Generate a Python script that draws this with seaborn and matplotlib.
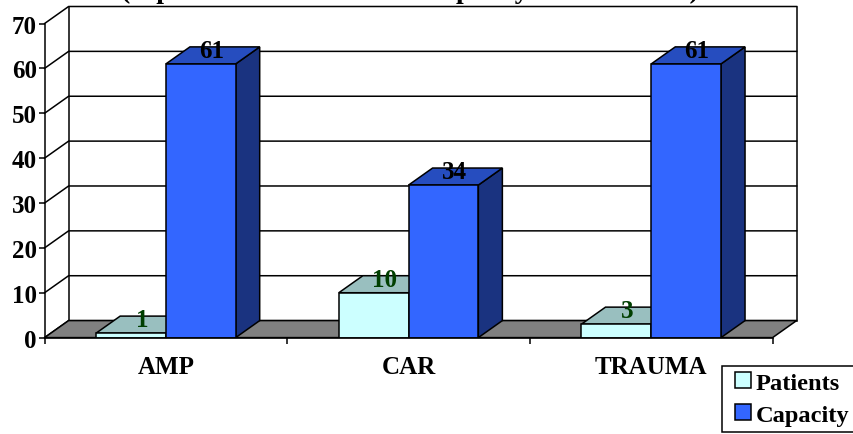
import matplotlib
matplotlib.use("Agg")
import matplotlib.pyplot as plt
import pandas as pd
import seaborn as sns
from matplotlib.legend_handler import HandlerPatch
from matplotlib.patches import Polygon, Rectangle

# Census per service against its bed capacity
services = ["AMP", "CAR", "TRAUMA"]
patients = [1, 10, 3]
capacity = [61, 34, 61]
heading = "(Inpatients and Unit Bed Capacity in Each Area)"

FRONT = {"Patients": "#CCFFFF", "Capacity": "#3366FF"}
TOP = {"Patients": "#99BFBF", "Capacity": "#264DBF"}
SIDE = {"Patients": "#66807F", "Capacity": "#1A3380"}
LABEL = {"Patients": "#003F00", "Capacity": "#000000"}
FLOOR = "#808080"

WIDTH, HEIGHT = 854, 435
AX_L, AX_R, AX_T, AX_B = 44.6, 772.6, 24.5, 338.6
DEPTH_X = 24 / ((AX_R - AX_L) / 3)   # receding depth, category units
DEPTH_Y = 17 / ((AX_B - AX_T) / 70)  # receding depth, value units

sns.set_theme(style="white")
plt.rcParams["font.family"] = ["Liberation Serif", "DejaVu Serif"]
plt.rcParams["font.weight"] = "bold"
FS = 18
LEGEND_FS = 17.6

frame = pd.DataFrame({
    "service": services * 2,
    "count": patients + capacity,
    "series": ["Patients"] * len(services) + ["Capacity"] * len(services),
})

fig = plt.figure(figsize=(WIDTH / 100, HEIGHT / 100), dpi=100, facecolor="white")
ax = fig.add_axes([AX_L / WIDTH, 1 - AX_B / HEIGHT,
                   (AX_R - AX_L) / WIDTH, (AX_B - AX_T) / HEIGHT])

sns.barplot(data=frame, x="service", y="count", hue="series", order=services,
            hue_order=["Patients", "Capacity"], palette=FRONT, saturation=1,
            width=0.575, gap=0, edgecolor="black", linewidth=1.1, ax=ax, zorder=1)
ax.set_xlim(-0.5, 2.5)
ax.set_ylim(0, 70)
ax.set_xlabel("")
ax.set_ylabel("")

def face(points, color, z):
    ax.add_patch(Polygon(points, closed=True, facecolor=color, edgecolor="black",
                         linewidth=1.1, zorder=z, clip_on=False))

def wire(xs, ys):
    ax.plot(xs, ys, color="black", lw=1.1, zorder=0.5, clip_on=False,
            solid_capstyle="projecting")

# Back wall, left wall and floor
yticks = list(range(0, 71, 10))
x0, x1 = -0.5, 2.5
for v in yticks:
    wire([x0, x0 + DEPTH_X, x1 + DEPTH_X], [v, v + DEPTH_Y, v + DEPTH_Y])
wire([x0 + DEPTH_X, x0 + DEPTH_X], [DEPTH_Y, 70 + DEPTH_Y])
wire([x1 + DEPTH_X, x1 + DEPTH_X], [DEPTH_Y, 70 + DEPTH_Y])
face([(x0, 0), (x1, 0), (x1 + DEPTH_X, DEPTH_Y), (x0 + DEPTH_X, DEPTH_Y)], FLOOR, 0.6)

# Top and side faces behind each seaborn bar, then the value labels
bars = [b for b in ax.patches
        if isinstance(b, Rectangle) and b.get_width() > 0]
for b in bars:
    left, w, h = b.get_x(), b.get_width(), b.get_height()
    kind = "Patients" if (left + w / 2) % 1 > 0.5 else "Capacity"
    right = left + w
    z = 0.8 if kind == "Patients" else 0.9
    face([(right, 0), (right + DEPTH_X, DEPTH_Y), (right + DEPTH_X, h + DEPTH_Y), (right, h)],
         SIDE[kind], z)
    face([(left, h), (right, h), (right + DEPTH_X, h + DEPTH_Y), (left + DEPTH_X, h + DEPTH_Y)],
         TOP[kind], z)
    ax.text(left + w / 2 + DEPTH_X * 0.45, h + DEPTH_Y * 0.78, f"{int(h)}",
            ha="center", va="center", fontsize=FS, fontweight="bold",
            color=LABEL[kind], zorder=3)

# Axes: spines, value ticks, category boundaries
for side in ("top", "right"):
    ax.spines[side].set_visible(False)
for side in ("left", "bottom"):
    ax.spines[side].set_color("black")
    ax.spines[side].set_linewidth(1.1)
    ax.spines[side].set_zorder(2)
ax.set_yticks(yticks)
ax.tick_params(axis="y", left=True, length=4, width=1.1, color="black", pad=1.5,
               labelsize=FS, labelcolor="black")
ax.set_xticks([0, 1, 2])
ax.set_xticklabels(services)
ax.set_xticks([-0.5, 0.5, 1.5, 2.5], minor=True)
ax.tick_params(axis="x", which="major", bottom=False, length=0, pad=12.5,
               labelsize=FS, labelcolor="black")
ax.tick_params(axis="x", which="minor", bottom=True, length=4.5, width=1.1, color="black")
for lab in ax.get_xticklabels() + ax.get_yticklabels():
    lab.set_fontweight("bold")

# Heading runs off the upper edge of the figure
fig.text(410 / WIDTH, 1 + 2.5 / HEIGHT, heading, ha="center", va="baseline",
         fontsize=20, fontweight="bold", color="black")

def inset_swatch(legend, orig_handle, xdescent, ydescent, width, height, fontsize):
    # Square swatch pushed to the right of its handle slot
    side = 11.5
    return Rectangle((width - side - xdescent, -ydescent), side, height)

handles, labels = ax.get_legend_handles_labels()
if ax.get_legend() is not None:
    ax.get_legend().remove()
leg = fig.legend(handles, labels, loc="lower left",
                 bbox_to_anchor=(722.5 / WIDTH, 1 - 433 / HEIGHT),
                 fancybox=False, framealpha=1, edgecolor="black",
                 prop={"family": "Liberation Serif", "weight": "bold", "size": LEGEND_FS},
                 handlelength=0.92, handleheight=0.65, handletextpad=0.18,
                 labelspacing=0.42, borderpad=0.25, borderaxespad=0,
                 handler_map={h: HandlerPatch(patch_func=inset_swatch) for h in handles})
leg.get_frame().set_linewidth(1.1)
for t in leg.get_texts():
    t.set_color("black")

fig.savefig("out.png", dpi=100, facecolor="white")
